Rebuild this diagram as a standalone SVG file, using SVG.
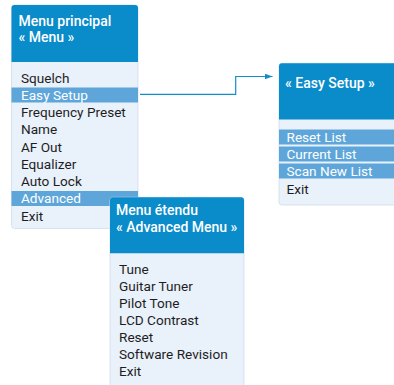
<svg xmlns="http://www.w3.org/2000/svg" width="394" height="385" viewBox="0 0 394 385">
<style>
.body{fill:#e9f1fb;stroke:#cfdceb;stroke-width:0.8}
.head{fill:#0a8bca}
.hl{fill:#5ea6da}
.title{font-family:Roboto,"Noto Sans",sans-serif;font-size:14px;font-weight:500;fill:#ffffff}
.item{font-family:Roboto,"Noto Sans",sans-serif;font-size:13.6px;fill:#1e1e1e}
.sel{fill:#ffffff}
.conn{fill:none;stroke:#138dcc;stroke-width:1.2}
</style>
<defs>
<marker id="arr" viewBox="0 0 8 6" refX="8" refY="3" markerWidth="8" markerHeight="6" markerUnits="userSpaceOnUse" orient="auto">
<path d="M0,0 L8,3 L0,6 Z" fill="#138dcc"/>
</marker>
</defs>
<g id="main-menu">
<rect class="body" x="11.5" y="5" width="126.5" height="223.5" rx="3"/>
<path class="head" d="M11.5,62 V8 a3,3 0 0 1 3,-3 H135 a3,3 0 0 1 3,3 V62 Z"/>
<text class="title" x="18.5" y="26">Menu principal</text>
<text class="title" x="18.5" y="42">« Menu »</text>
<rect class="hl" x="11.5" y="87.5" width="126.5" height="15"/>
<rect class="hl" x="11.5" y="191" width="126.5" height="15"/>
<text class="item" x="21" y="82.5">Squelch</text>
<text class="item sel" x="21" y="99.7">Easy Setup</text>
<text class="item" x="21" y="117">Frequency Preset</text>
<text class="item" x="21" y="134.2">Name</text>
<text class="item" x="21" y="151.5">AF Out</text>
<text class="item" x="21" y="168.7">Equalizer</text>
<text class="item" x="21" y="186">Auto Lock</text>
<text class="item sel" x="21" y="203.2">Advanced</text>
<text class="item" x="21" y="220.5">Exit</text>
</g>
<g id="connectors">
<path class="conn" d="M140,94.3 H235.7 V76.5 H272.5" marker-end="url(#arr)"/>
</g>
<g id="easy-setup">
<rect class="body" x="279" y="63.3" width="120" height="141.7" rx="3"/>
<path class="head" d="M279,119.5 V66.3 a3,3 0 0 1 3,-3 H399 V119.5 Z"/>
<text class="title" x="285" y="88.3">« Easy Setup »</text>
<rect class="hl" x="279" y="129.5" width="120" height="15"/>
<rect class="hl" x="279" y="146.5" width="120" height="15"/>
<rect class="hl" x="279" y="163.5" width="120" height="15"/>
<text class="item sel" x="286.5" y="141.5">Reset List</text>
<text class="item sel" x="286.5" y="158.5">Current List</text>
<text class="item sel" x="286.5" y="175.5">Scan New List</text>
<text class="item" x="286.5" y="193.5">Exit</text>
</g>
<g id="advanced-menu">
<rect class="body" x="110" y="197.3" width="134" height="190" rx="3"/>
<path class="head" d="M110,253.3 V200.3 a3,3 0 0 1 3,-3 H241 a3,3 0 0 1 3,3 V253.3 Z"/>
<text class="title" x="116" y="215">Menu étendu</text>
<text class="title" x="116" y="231.7">« Advanced Menu »</text>
<text class="item" x="119" y="273.5">Tune</text>
<text class="item" x="119" y="290.5">Guitar Tuner</text>
<text class="item" x="119" y="307.6">Pilot Tone</text>
<text class="item" x="119" y="324.7">LCD Contrast</text>
<text class="item" x="119" y="341.7">Reset</text>
<text class="item" x="119" y="358.7">Software Revision</text>
<text class="item" x="119" y="375.8">Exit</text>
</g>
</svg>
